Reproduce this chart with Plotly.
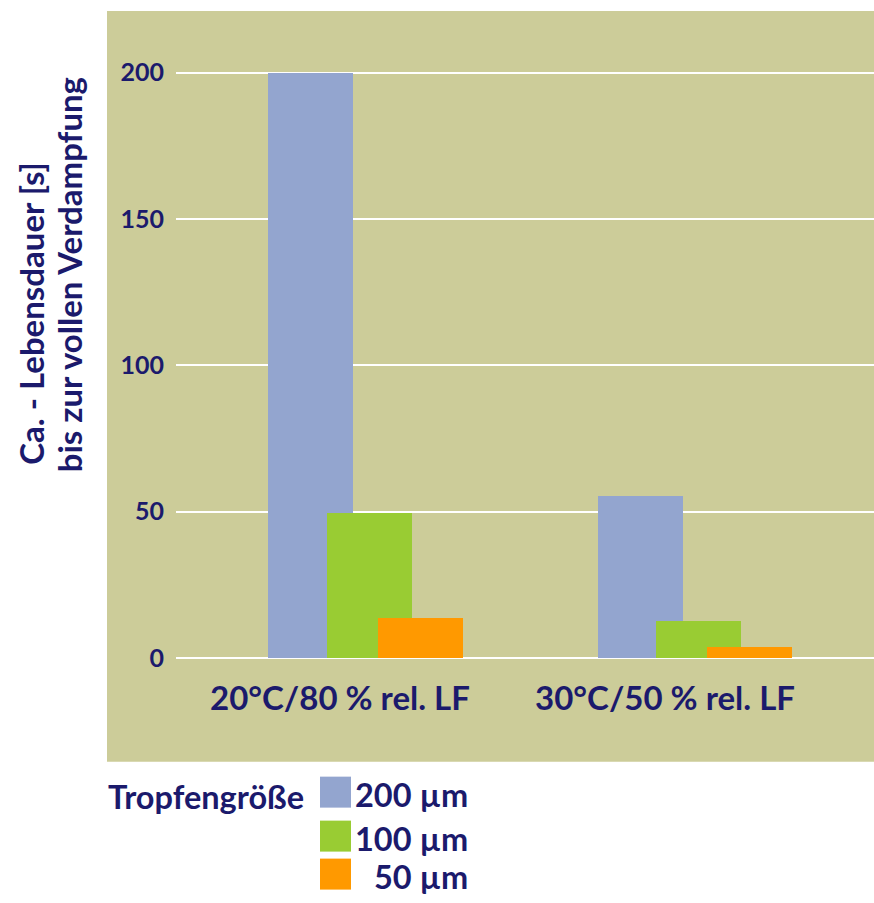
import plotly.graph_objects as go

# Evaporation lifetime of droplets under two climate conditions
conditions = ["20°C/80 % rel. LF", "30°C/50 % rel. LF"]
sizes = ["200 µm", "100 µm", "50 µm"]
lifetime_200 = [200, 55.5]
lifetime_100 = [49.5, 12.5]
lifetime_50 = [13.7, 3.8]
series = [lifetime_200, lifetime_100, lifetime_50]
y_ticks = [0, 50, 100, 150, 200]
y_title_lines = ["Ca. - Lebensdauer [s]", "bis zur vollen Verdampfung"]
legend_title = "Tropfengröße"

colors = ["#93a5cf", "#99cc33", "#ff9900"]
khaki = "#cccc99"
navy = "#1b1a6c"
font_family = "Lato, 'Open Sans', sans-serif"

# figure geometry (pixels)
W, H = 874, 903
L, R, T, B = 176, 874, 11, 658.3
plot_w, plot_h = R - L, B - T


def px_x(px):
    return (px - L) / plot_w


def px_y(py):
    return (B - py) / plot_h


fig = go.Figure()
# each size class is shifted within its condition group, partially overlapping
offsets = [[-0.2215, -0.206], [-0.040, -0.028], [0.117, 0.129]]
for name, vals, col, off in zip(sizes, series, colors, offsets):
    fig.add_trace(go.Bar(
        x=conditions, y=vals, name=name,
        marker=dict(color=col, line=dict(width=0)),
        offset=off, width=0.2615,
        showlegend=False,
    ))

# khaki panel behind the axes and labels
fig.add_shape(type="rect", xref="paper", yref="paper",
              x0=px_x(107), x1=1.0, y0=px_y(762), y1=1.0,
              fillcolor=khaki, line=dict(width=0), layer="below")

# y-axis title, two lines, reading bottom to top
for line, cx, bottom in zip(y_title_lines, [31.5, 69], [467, 475]):
    fig.add_annotation(
        text=line, xref="paper", yref="paper", x=px_x(cx), y=px_y(bottom),
        xanchor="center", yanchor="bottom", textangle=-90,
        showarrow=False, font=dict(family=font_family, size=33, color=navy, weight="bold"),
    )

# legend drawn as swatches with labels
fig.add_annotation(
    text=legend_title, xref="paper", yref="paper",
    x=px_x(106), y=px_y(797), xanchor="left", yanchor="middle",
    showarrow=False, font=dict(family=font_family, size=32.5, color=navy, weight="bold"),
)
swatch_rows = [(777, 808), (821, 852), (859, 890)]
for name, col, (top, bottom) in zip(sizes, colors, swatch_rows):
    fig.add_shape(type="rect", xref="paper", yref="paper",
                  x0=px_x(320), x1=px_x(351), y0=px_y(bottom), y1=px_y(top),
                  fillcolor=col, line=dict(width=0))
    fig.add_annotation(
        text=name, xref="paper", yref="paper",
        x=px_x(470), y=px_y((top + bottom) / 2 + 2), xanchor="right", yanchor="middle",
        showarrow=False, font=dict(family=font_family, size=32.5, color=navy, weight="bold"),
    )

fig.update_layout(
    width=W, height=H,
    margin=dict(l=L, r=W - R, t=T, b=H - B, pad=0),
    paper_bgcolor="white", plot_bgcolor=khaki,
    barmode="overlay", bargap=0,
    font=dict(family=font_family, color=navy),
)
fig.update_xaxes(
    type="category", range=[-0.5046, 1.643],
    showgrid=False, zeroline=False, showline=False, ticks="",
    tickfont=dict(family=font_family, size=33, color=navy, weight="bold"),
    ticklabelstandoff=18,
)
fig.update_yaxes(
    range=[0, 221.1], tickvals=y_ticks,
    showgrid=True, gridcolor="white", gridwidth=2,
    zeroline=True, zerolinecolor="white", zerolinewidth=2,
    showline=False, ticks="",
    tickfont=dict(family=font_family, size=25, color=navy, weight="bold"),
    ticklabelstandoff=11,
)

fig.write_html("out.html")
